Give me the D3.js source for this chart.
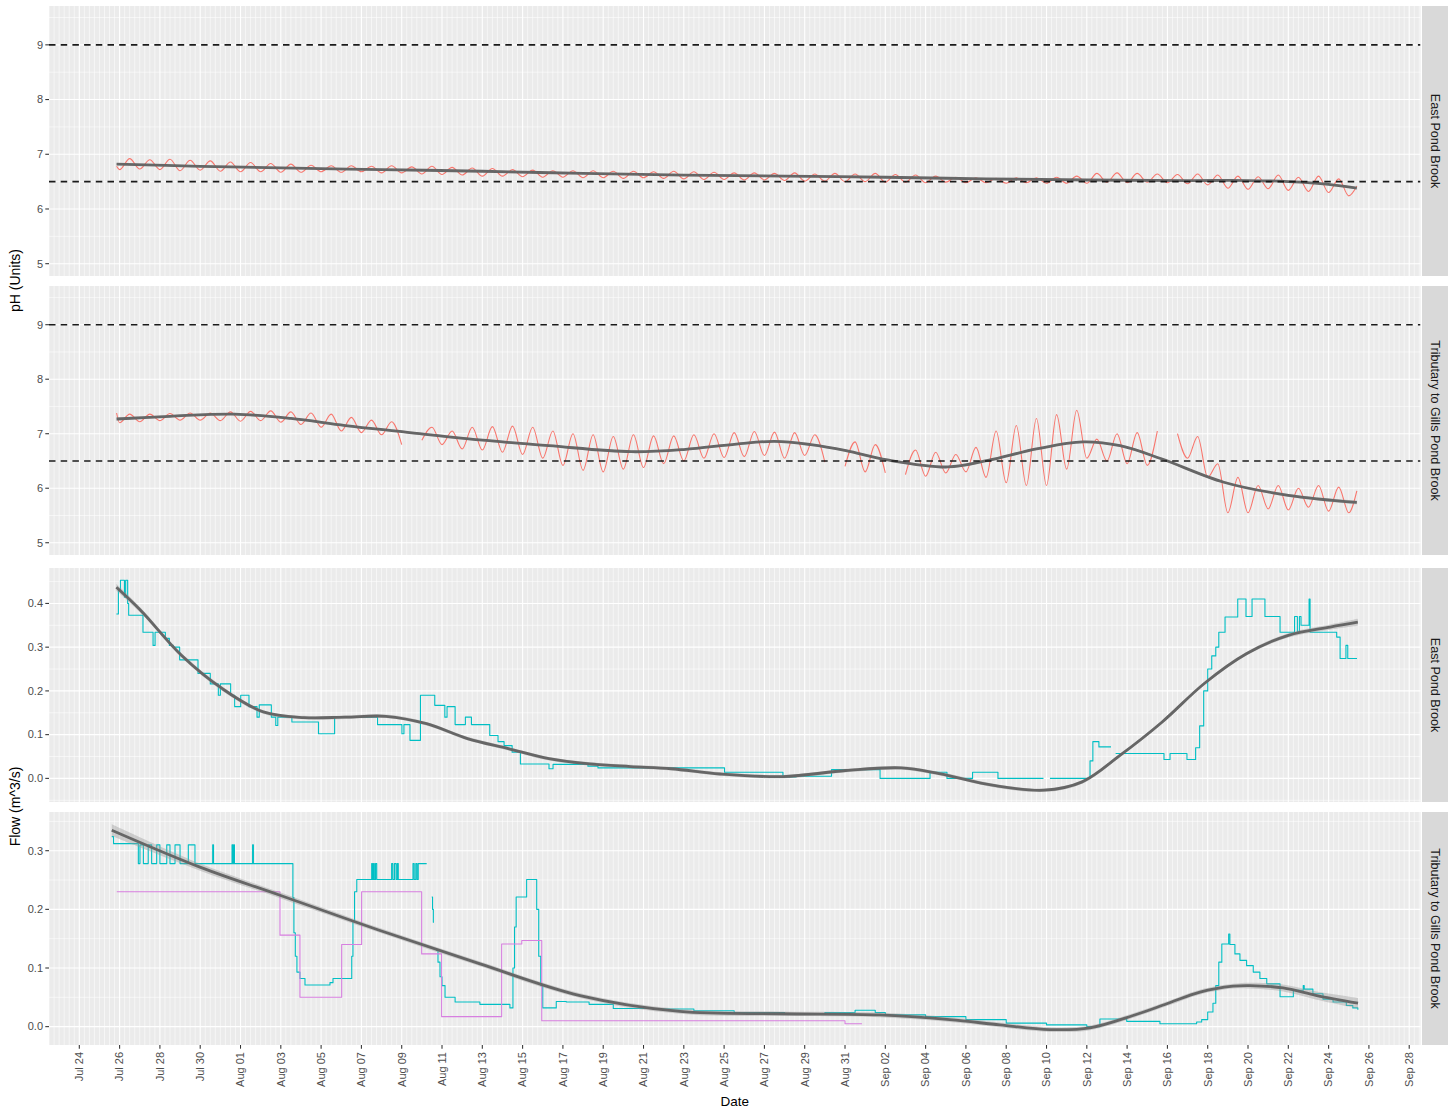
<!DOCTYPE html>
<html>
<head>
<meta charset="utf-8">
<script src="https://cdn.jsdelivr.net/npm/d3@7"></script>
<style>
  body { margin: 0; background: #fff; }
  svg text { font-family: "Liberation Sans", Arial, sans-serif; }
</style>
</head>
<body>
<svg id="chart" width="1448" height="1110"></svg>
<script>
// ---- data ------------------------------------------------------------
// all times are days since Jul 24 (00:00)

// pH, daily low (around midnight) and high (around midday), Jul 26 .. Sep 25
var phEastMin = [6.72,6.73,6.72,6.70,6.71,6.69,
  6.68,6.68,6.67,6.67,6.68,6.67,6.68,6.66,6.66,6.64,6.63,6.62,6.60,6.60,6.59,6.58,6.58,6.57,6.57,6.56,6.57,6.56,6.55,6.54,6.54,6.53,6.53,6.52,6.51,6.51,6.50,
  6.50,6.49,6.49,6.48,6.49,6.48,6.48,6.47,6.48,6.47,6.47,6.47,6.49,6.48,6.49,6.48,6.46,6.44,6.38,6.36,6.37,6.34,6.32,6.30,6.24];
var phEastMax = [6.92,6.90,6.91,6.89,6.88,6.86,
  6.85,6.83,6.82,6.80,6.79,6.79,6.78,6.79,6.77,6.78,6.76,6.75,6.74,6.72,6.71,6.70,6.70,6.70,6.69,6.69,6.68,6.69,6.68,6.67,6.66,6.66,6.65,6.66,6.64,6.65,6.64,
  6.65,6.63,6.62,6.60,6.58,6.57,6.56,6.57,6.57,6.58,6.60,6.65,6.66,6.65,6.64,6.63,6.64,6.62,6.60,6.59,6.62,6.58,6.60,6.55];
var phEastEnds = [[1.85, 6.78], [63.4, 6.42]];

var phTribMin = [7.20,7.22,7.24,7.25,7.25,7.24,
  7.23,7.24,7.21,7.17,7.12,7.05,7.02,6.98,6.80,6.88,6.80,6.72,6.70,6.66,6.62,6.55,6.42,6.33,6.30,6.35,6.38,6.45,6.50,6.55,6.56,6.58,6.60,6.55,6.60,6.48,6.40,
  6.30,6.28,6.25,6.22,6.28,6.30,6.20,6.10,6.05,6.05,6.35,6.55,6.50,6.45,6.42,null,6.55,6.20,5.55,5.55,5.62,5.60,5.65,5.58,5.55];
var phTribMax = [7.36,7.36,7.37,7.38,7.38,7.40,
  7.41,7.42,7.40,7.38,7.36,7.30,7.25,7.22,null,7.12,7.05,7.12,7.13,7.14,7.12,7.05,7.00,6.98,6.95,6.98,6.96,6.96,6.98,7.00,7.02,7.04,7.03,7.02,6.98,null,6.85,
  6.80,null,6.70,6.66,6.62,6.75,7.05,7.15,7.28,7.35,7.43,6.90,7.00,7.02,7.05,7.00,6.95,6.45,6.20,6.05,6.05,6.00,6.05,6.02];
var phTribEnds = [[1.85, 7.38], [63.4, 5.95]];

// smoothed trends [t, value, se]
var phEastSmooth = [[1.85,6.82,0.015],[6,6.78,0.01],[10,6.75,0.008],[15,6.72,0.008],[20,6.69,0.008],[25,6.65,0.008],[30,6.62,0.008],
  [35,6.60,0.008],[40,6.58,0.008],[45,6.55,0.008],[50,6.53,0.008],[55,6.52,0.008],[58,6.52,0.01],[60,6.50,0.01],[62,6.45,0.012],[63.4,6.38,0.018]];
var phTribSmooth = [[1.85,7.27,0.03],[4.5,7.32,0.02],[7.7,7.36,0.02],[10.5,7.28,0.02],[13.2,7.15,0.02],[16.2,7.03,0.02],[19.2,6.91,0.02],
  [23.3,6.78,0.02],[27.4,6.67,0.02],[30,6.71,0.02],[32.6,6.81,0.02],[34.5,6.86,0.02],[36.3,6.80,0.02],[38.05,6.69,0.02],[40.1,6.52,0.02],
  [43.1,6.39,0.02],[45.1,6.51,0.02],[47.5,6.72,0.02],[49.8,6.85,0.02],[51.65,6.78,0.02],[53.7,6.54,0.02],[56.8,6.11,0.02],[60,5.87,0.025],[63.4,5.74,0.035]];
var phLimits = [6.5, 9];

// flow (m^3/s), step series [t, value]
var flowEast = [[1.84,0.376],[1.94,0.43],[2.04,0.453],[2.24,0.414],[2.30,0.453],[2.40,0.40],[2.45,0.373],[3.16,0.334],[3.66,0.304],
  [3.76,0.334],[4.27,0.32],[4.47,0.304],[4.67,0.30],[4.98,0.271],[5.89,0.24],[6.50,0.216],[6.90,0.19],[7.00,0.216],[7.51,0.19],
  [7.71,0.164],[8.01,0.19],[8.42,0.164],[8.82,0.14],[8.93,0.168],[9.53,0.14],[9.75,0.121],[9.85,0.14],[10.55,0.129],[11.87,0.102],
  [12.67,0.14],[14.80,0.123],[16.01,0.102],[16.11,0.123],[16.41,0.087],[16.93,0.19],[17.64,0.167],[18.14,0.14],[18.25,0.164],
  [18.65,0.123],[19.16,0.14],[19.46,0.123],[20.37,0.098],[20.78,0.084],[21.08,0.075],[21.48,0.06],[21.89,0.033],[23.31,0.022],
  [23.51,0.032],[25.24,0.028],[25.74,0.024],[32.02,0.014],[34.92,0.003],[35.57,0.005],[37.33,0.02],[39.74,0.0],[42.22,0.014],
  [43.06,0.0],[44.33,0.014],[45.59,0.0],[47.85,0.0],[47.88,null],[48.17,0.0],[50.16,0.04],[50.3,0.084],[50.6,0.072],[51.2,0.072],
  [51.21,null],[51.43,0.057],[53.83,0.043],[54.13,0.057],[54.97,0.043],[55.40,0.07],[55.6,0.12],[55.8,0.2],[56.0,0.25],[56.2,0.28],
  [56.4,0.30],[56.55,0.334],[56.86,0.369],[57.49,0.41],[57.90,0.37],[58.20,0.41],[58.84,0.37],[59.59,0.334],[60.31,0.37],[60.45,0.334],
  [60.55,0.37],[60.63,0.35],[61.03,0.41],[61.08,0.334],[62.40,0.323],[62.57,0.274],[62.86,0.304],[62.95,0.274],[63.41,0.274]];
var flowEastSmooth = [[1.84,0.437,0.008],[3.05,0.384,0.006],[5.08,0.281,0.005],[7.10,0.205,0.005],[9.13,0.152,0.004],[11.15,0.139,0.004],
  [13.19,0.14,0.004],[15.21,0.142,0.004],[17.23,0.125,0.004],[19.26,0.091,0.004],[21.29,0.068,0.004],[23.31,0.045,0.004],[25.34,0.033,0.004],
  [27.36,0.027,0.004],[29.38,0.022,0.004],[31.8,0.01,0.004],[34.92,0.004,0.004],[38.05,0.018,0.004],[40.79,0.024,0.004],[42.67,0.011,0.004],
  [45.38,-0.016,0.004],[47.88,-0.027,0.004],[49.77,-0.008,0.004],[51.66,0.053,0.004],[53.74,0.129,0.004],[55.83,0.217,0.004],
  [57.92,0.285,0.004],[60.0,0.327,0.005],[62.08,0.346,0.006],[63.45,0.357,0.008]];

var flowTrib = [[1.61,0.324],[1.70,0.312],[2.93,0.278],[3.01,0.31],[3.18,0.278],[3.42,0.31],[3.59,0.278],[3.84,0.31],[4.0,0.278],
  [4.34,0.31],[4.5,0.278],[4.75,0.31],[5.0,0.278],[5.41,0.31],[5.74,0.278],[6.62,0.31],[6.66,0.278],[7.58,0.31],[7.62,0.278],
  [7.66,0.31],[7.70,0.278],[8.60,0.31],[8.64,0.278],[10.6,0.22],[10.65,0.16],[10.72,0.12],[10.8,0.093],[10.95,0.082],[11.2,0.071],
  [12.44,0.075],[12.59,0.082],[13.52,0.12],[13.58,0.18],[13.66,0.23],[13.77,0.251],[14.51,0.278],[14.55,0.251],[14.6,0.278],
  [14.64,0.251],[14.7,0.278],[14.76,0.251],[15.5,0.278],[15.56,0.251],[15.64,0.278],[15.72,0.251],[15.78,0.278],[15.83,0.251],
  [16.56,0.278],[16.62,0.251],[16.7,0.278],[16.76,0.251],[16.82,0.278],[17.24,0.278],[17.25,null],[17.49,0.221],[17.53,0.2],
  [17.57,0.178],[17.6,0.178],[17.61,null],[17.7,0.13],[17.8,0.11],[17.9,0.085],[18.0,0.07],[18.15,0.05],[18.65,0.042],[19.88,0.038],
  [21.37,0.032],[21.52,0.1],[21.6,0.17],[21.68,0.221],[22.2,0.251],[22.7,0.2],[22.8,0.12],[22.9,0.07],[23.0,0.032],[23.67,0.043],
  [24.17,0.042],[25.3,0.038],[26.5,0.031],[28.5,0.03],[30.5,0.027],[32.5,0.024],[35,0.022],[37,0.024],[38.5,0.028],[39.5,0.024],
  [40,0.02],[42,0.017],[44,0.012],[46,0.006],[48,0.003],[50,0.0],[50.65,0.013],[51.98,0.009],[53.63,0.005],[55.45,0.008],[55.7,0.012],
  [56.0,0.025],[56.26,0.04],[56.4,0.07],[56.55,0.11],[56.7,0.141],[57.04,0.158],[57.1,0.14],[57.35,0.124],[57.6,0.113],[57.93,0.104],
  [58.26,0.093],[58.59,0.082],[58.93,0.073],[59.59,0.051],[60.25,0.062],[60.74,0.07],[60.79,0.064],[61.22,0.056],[61.72,0.047],
  [62.22,0.042],[62.88,0.036],[63.2,0.032],[63.45,0.029]];
var flowTribB = [[1.86,0.23],[9.96,0.156],[10.95,0.05],[13.02,0.14],[14.01,0.23],[16.99,0.124],[17.98,0.017],[20.96,0.141],
  [21.96,0.147],[22.95,0.01],[38.0,0.005],[38.84,0.005]];
var flowTribSmooth = [[1.61,0.335,0.01],[5.99,0.272,0.006],[9.96,0.224,0.005],[14.92,0.164,0.004],[19.89,0.107,0.004],[24.85,0.053,0.004],
  [29.8,0.026,0.004],[34.76,0.022,0.004],[39.72,0.02,0.004],[43.2,0.012,0.004],[45.69,0.003,0.004],[48.17,-0.005,0.004],[50.16,-0.002,0.004],
  [52.3,0.019,0.004],[53.97,0.039,0.004],[55.62,0.059,0.004],[57.26,0.069,0.004],[58.1,0.07,0.005],[59.74,0.066,0.006],[61.41,0.053,0.007],[63.46,0.04,0.009]];

var sites = ["East Pond Brook", "Tributary to Gills Pond Brook"];

// ---- helpers ---------------------------------------------------------
var base = new Date(2019, 6, 24);
function tDate(t) { return new Date(base.getTime() + t * 864e5); }

function dailySeries(mins, maxs, ends) {
  var pts = [ends[0]];
  mins.forEach(function(v, i) {
    pts.push([2 + i, v]);
    if (i < maxs.length) pts.push([2.5 + i, maxs[i]]);
  });
  pts.push(ends[1]);
  return pts;
}

var svg = d3.select("#chart");
var left = 49, right = 1420.5;
var x = d3.scaleTime().domain([tDate(-1.504), tDate(66.56)]).range([left, right]);

var majorDates = d3.timeDay.range(base, tDate(66.5), 2);
var majorSet = new Set(majorDates.map(function(d) { return +d; }));
var minorDates = d3.timeHour.every(6).range(x.domain()[0], x.domain()[1])
  .filter(function(d) { return !majorSet.has(+d); });

var panels = [
  {top: 6,   bottom: 276,  domain: [4.775, 9.71], ticks: [5,6,7,8,9], step: 1, fmt: d3.format("d"), site: 0, kind: "ph",
   series: [{pts: dailySeries(phEastMin, phEastMax, phEastEnds), color: "#F8766D", curve: d3.curveMonotoneX}], smooth: phEastSmooth},
  {top: 286, bottom: 555,  domain: [4.775, 9.71], ticks: [5,6,7,8,9], step: 1, fmt: d3.format("d"), site: 1, kind: "ph",
   series: [{pts: dailySeries(phTribMin, phTribMax, phTribEnds), color: "#F8766D", curve: d3.curveMonotoneX}], smooth: phTribSmooth},
  {top: 568, bottom: 802,  domain: [-0.054, 0.481], ticks: [0,0.1,0.2,0.3,0.4], step: 0.1, fmt: d3.format(".1f"), site: 0, kind: "flow",
   series: [{pts: flowEast, color: "#00BFC4", curve: d3.curveStepAfter}], smooth: flowEastSmooth},
  {top: 812, bottom: 1045, domain: [-0.0313, 0.366], ticks: [0,0.1,0.2,0.3], step: 0.1, fmt: d3.format(".1f"), site: 1, kind: "flow",
   series: [{pts: flowTrib, color: "#00BFC4", curve: d3.curveStepAfter},
            {pts: flowTribB, color: "#D77FE0", curve: d3.curveStepAfter}], smooth: flowTribSmooth}
];

panels.forEach(function(p, pi) {
  var y = d3.scaleLinear().domain(p.domain).range([p.bottom, p.top]);
  var g = svg.append("g");

  g.append("rect").attr("x", left).attr("y", p.top)
    .attr("width", right - left).attr("height", p.bottom - p.top).attr("fill", "#EBEBEB");

  // grid
  var minorY = d3.range(p.ticks[0] - p.step * 1.5, p.domain[1], p.step)
    .filter(function(v) { return v > p.domain[0] && v < p.domain[1]; });
  g.selectAll(".hminor").data(minorY).enter().append("line")
    .attr("x1", left).attr("x2", right)
    .attr("y1", function(d) { return y(d); }).attr("y2", function(d) { return y(d); })
    .attr("stroke", "#fff").attr("stroke-width", 0.55);
  g.selectAll(".vminor").data(minorDates).enter().append("line")
    .attr("x1", function(d) { return x(d); }).attr("x2", function(d) { return x(d); })
    .attr("y1", p.top).attr("y2", p.bottom)
    .attr("stroke", "#fff").attr("stroke-width", 0.55);
  g.selectAll(".hmajor").data(p.ticks).enter().append("line")
    .attr("x1", left).attr("x2", right)
    .attr("y1", function(d) { return y(d); }).attr("y2", function(d) { return y(d); })
    .attr("stroke", "#fff").attr("stroke-width", 1.1);
  g.selectAll(".vmajor").data(majorDates).enter().append("line")
    .attr("x1", function(d) { return x(d); }).attr("x2", function(d) { return x(d); })
    .attr("y1", p.top).attr("y2", p.bottom)
    .attr("stroke", "#fff").attr("stroke-width", 1.1);

  var clipId = "clip" + pi;
  svg.append("clipPath").attr("id", clipId).append("rect")
    .attr("x", left).attr("y", p.top).attr("width", right - left).attr("height", p.bottom - p.top);
  var c = g.append("g").attr("clip-path", "url(#" + clipId + ")");

  // raw series
  p.series.forEach(function(s) {
    var line = d3.line()
      .defined(function(d) { return d[1] != null; })
      .x(function(d) { return x(tDate(d[0])); })
      .y(function(d) { return y(d[1]); })
      .curve(s.curve);
    c.append("path").attr("d", line(s.pts))
      .attr("fill", "none").attr("stroke", s.color).attr("stroke-width", 1.1)
      .attr("stroke-linejoin", "round");
  });

  // smooth + ribbon
  var band = d3.area()
    .x(function(d) { return x(tDate(d[0])); })
    .y0(function(d) { return y(d[1] - d[2]); })
    .y1(function(d) { return y(d[1] + d[2]); })
    .curve(d3.curveCatmullRom);
  c.append("path").attr("d", band(p.smooth)).attr("fill", "#999999").attr("fill-opacity", 0.4);
  var sline = d3.line()
    .x(function(d) { return x(tDate(d[0])); })
    .y(function(d) { return y(d[1]); })
    .curve(d3.curveCatmullRom);
  c.append("path").attr("d", sline(p.smooth))
    .attr("fill", "none").attr("stroke", "#666666").attr("stroke-width", 2.8);

  // pH limits
  if (p.kind === "ph") {
    c.selectAll(".lim").data(phLimits).enter().append("line")
      .attr("x1", left).attr("x2", right)
      .attr("y1", function(d) { return y(d); }).attr("y2", function(d) { return y(d); })
      .attr("stroke", "#1a1a1a").attr("stroke-width", 1.6).attr("stroke-dasharray", "6.5,5.2");
  }

  // y axis
  g.selectAll(".ytick").data(p.ticks).enter().append("line")
    .attr("x1", 45.3).attr("x2", left)
    .attr("y1", function(d) { return y(d); }).attr("y2", function(d) { return y(d); })
    .attr("stroke", "#333").attr("stroke-width", 1.07);
  g.selectAll(".ylab").data(p.ticks).enter().append("text")
    .attr("x", 43).attr("y", function(d) { return y(d); }).attr("dy", "0.35em")
    .attr("text-anchor", "end").attr("font-size", 11).attr("fill", "#4D4D4D")
    .text(function(d) { return p.fmt(d); });

  // strip
  g.append("rect").attr("x", 1422).attr("y", p.top).attr("width", 26).attr("height", p.bottom - p.top)
    .attr("fill", "#D9D9D9");
  var cy = (p.top + p.bottom) / 2;
  g.append("text").attr("transform", "translate(1435," + cy + ") rotate(90)")
    .attr("text-anchor", "middle").attr("dy", "0.35em")
    .attr("font-size", 12.6).attr("fill", "#1A1A1A")
    .text(sites[p.site]);
});

// x axis under the last panel
var xa = svg.append("g");
xa.selectAll("line").data(majorDates).enter().append("line")
  .attr("x1", function(d) { return x(d); }).attr("x2", function(d) { return x(d); })
  .attr("y1", 1045).attr("y2", 1048.7)
  .attr("stroke", "#333").attr("stroke-width", 1.07);
xa.selectAll("text").data(majorDates).enter().append("text")
  .attr("transform", function(d) { return "translate(" + x(d) + ",1052) rotate(-90)"; })
  .attr("text-anchor", "end").attr("dy", "0.35em")
  .attr("font-size", 11).attr("fill", "#4D4D4D")
  .text(d3.timeFormat("%b %d"));

svg.append("text").attr("x", (left + right) / 2).attr("y", 1106)
  .attr("text-anchor", "middle").attr("font-size", 13.5).attr("fill", "#000").text("Date");
svg.append("text").attr("transform", "translate(20," + ((6 + 555) / 2) + ") rotate(-90)")
  .attr("text-anchor", "middle").attr("font-size", 14).attr("fill", "#000").text("pH (Units)");
svg.append("text").attr("transform", "translate(20," + ((568 + 1045) / 2) + ") rotate(-90)")
  .attr("text-anchor", "middle").attr("font-size", 14).attr("fill", "#000").text("Flow (m^3/s)");
</script>
</body>
</html>
